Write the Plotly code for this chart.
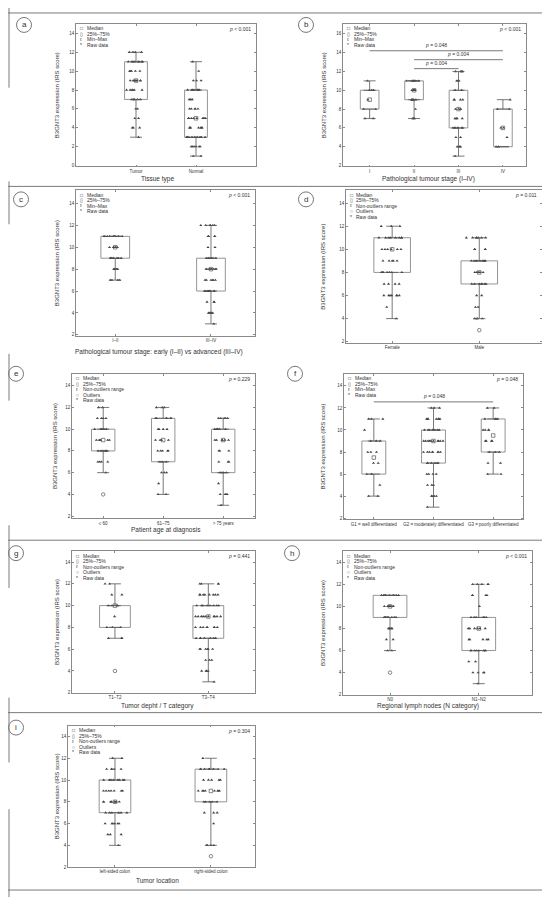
import numpy as np
import plotly.graph_objects as go

# the page is 550x904; the browser puts the figure 8 px in from the top-left
PAGE_W, PAGE_H = 550, 904
OFF = 8
W, H = PAGE_W - OFF, PAGE_H - OFF

#####
# data: box stats (q1, median, q3, whisker ends),
# raw IRS scores as value / count pairs per group, outliers, p-values
#####

# a) tissue type
a_cats = ["Tumor", "Normal"]
a_q1 = [7, 3]
a_med = [9, 5]
a_q3 = [11, 8]
a_lo = [3, 1]
a_hi = [12, 11]
a_tumor_vals = [12, 11, 10, 9, 8, 7, 6, 5, 4, 3]
a_tumor_n = [4, 8, 5, 8, 6, 5, 2, 2, 3, 1]
a_normal_vals = [11, 10, 9, 8, 7, 6, 5, 4, 3, 2, 1]
a_normal_n = [1, 1, 3, 8, 3, 5, 9, 7, 9, 6, 2]

# b) pathological stage I-IV
b_cats = ["I", "II", "III", "IV"]
b_q1 = [8, 9, 6, 4]
b_med = [9, 10, 8, 6]
b_q3 = [10, 11, 10, 8]
b_lo = [7, 7, 3, 4]
b_hi = [11, 11, 12, 9]
b_s1_vals = [11, 10, 9, 8, 7]
b_s1_n = [1, 3, 1, 2, 2]
b_s2_vals = [11, 10, 9, 8, 7]
b_s2_n = [7, 5, 6, 1, 3]
b_s3_vals = [12, 11, 10, 9, 8, 7, 6, 5, 4, 3]
b_s3_n = [4, 3, 2, 4, 4, 4, 7, 2, 3, 1]
b_s4_vals = [9, 8, 6, 5, 4]
b_s4_n = [1, 2, 2, 1, 2]
b_sig = [("I", "IV", 14.2, "p = 0.048"),
         ("II", "IV", 13.25, "p = 0.004"),
         ("II", "III", 12.3, "p = 0.004")]

# c) early vs advanced stage
c_cats = ["I–II", "III–IV"]
c_q1 = [9, 6]
c_med = [10, 8]
c_q3 = [11, 9]
c_lo = [7, 3]
c_hi = [11, 12]
c_early_vals = [11, 10, 9, 8, 7]
c_early_n = [9, 6, 8, 5, 4]
c_adv_vals = [12, 11, 10, 9, 8, 7, 6, 5, 4, 3]
c_adv_n = [6, 4, 2, 6, 8, 6, 9, 3, 5, 1]

# d) sex
d_cats = ["Female", "Male"]
d_q1 = [8, 7]
d_med = [10, 8]
d_q3 = [11, 9]
d_lo = [4, 4]
d_hi = [12, 11]
d_female_vals = [12, 11, 10, 9, 8, 7, 6, 5, 4]
d_female_n = [3, 8, 6, 5, 7, 4, 7, 1, 1]
d_male_vals = [11, 10, 9, 8, 7, 6, 5, 4]
d_male_n = [7, 4, 9, 5, 7, 2, 2, 4]
d_out_x = ["Male"]
d_out_y = [3]

# e) age at diagnosis
e_cats = ["≤ 60", "61–75", "> 75 years"]
e_q1 = [8, 7, 6]
e_med = [9, 9, 9]
e_q3 = [10, 11, 10]
e_lo = [6, 4, 3]
e_hi = [12, 12, 11]
e_g1_vals = [12, 11, 10, 9, 8, 7, 6]
e_g1_n = [2, 4, 6, 6, 6, 4, 1]
e_g2_vals = [12, 11, 10, 9, 8, 7, 6, 5, 4]
e_g2_n = [3, 6, 4, 4, 5, 3, 3, 1, 2]
e_g3_vals = [11, 10, 9, 8, 7, 6, 5, 4, 3]
e_g3_n = [5, 6, 6, 3, 3, 4, 1, 4, 1]
e_out_x = ["≤ 60"]
e_out_y = [4]

# f) grading
f_cats = ["G1 = well differentiated", "G2 = moderately differentiated",
          "G3 = poorly differentiated"]
f_q1 = [6, 7, 8]
f_med = [7.5, 9, 9.5]
f_q3 = [9, 10, 11]
f_lo = [4, 3, 6]
f_hi = [11, 12, 12]
f_g1_vals = [11, 10, 9, 8, 7, 6, 5, 4]
f_g1_n = [3, 1, 3, 3, 2, 2, 1, 2]
f_g2_vals = [12, 11, 10, 9, 8, 7, 6, 5, 4, 3]
f_g2_n = [3, 7, 7, 10, 8, 6, 4, 3, 5, 1]
f_g3_vals = [12, 11, 10, 9, 8, 7, 6]
f_g3_n = [2, 4, 4, 4, 3, 2, 2]
f_sig = [("G1 = well differentiated", "G3 = poorly differentiated", 12.55, "p = 0.048")]

# g) T category
g_cats = ["T1–T2", "T3–T4"]
g_q1 = [8, 7]
g_med = [10, 9]
g_q3 = [10, 10]
g_lo = [7, 3]
g_hi = [12, 12]
g_t12_vals = [12, 11, 10, 9, 8, 7]
g_t12_n = [2, 2, 4, 1, 3, 3]
g_t34_vals = [12, 11, 10, 9, 8, 7, 6, 5, 4, 3]
g_t34_n = [4, 8, 8, 10, 8, 7, 6, 3, 4, 1]
g_out_x = ["T1–T2"]
g_out_y = [4]

# h) N category
h_cats = ["N0", "N1–N2"]
h_q1 = [9, 6]
h_med = [10, 8]
h_q3 = [11, 9]
h_lo = [6, 3]
h_hi = [11, 12]
h_n0_vals = [11, 10, 9, 8, 7, 6]
h_n0_n = [10, 9, 9, 5, 2, 2]
h_n12_vals = [12, 11, 10, 9, 8, 7, 6, 5, 4, 3]
h_n12_n = [5, 4, 1, 6, 6, 5, 8, 2, 4, 1]
h_out_x = ["N0"]
h_out_y = [4]

# i) tumour location
i_cats = ["left-sided colon", "right-sided colon"]
i_q1 = [7, 8]
i_med = [8, 9]
i_q3 = [10, 11]
i_lo = [4, 4]
i_hi = [12, 12]
i_left_vals = [12, 11, 10, 9, 8, 7, 6, 5, 4]
i_left_n = [2, 5, 8, 7, 9, 6, 6, 3, 1]
i_right_vals = [12, 11, 10, 9, 8, 7, 6, 4]
i_right_n = [1, 8, 5, 8, 5, 3, 1, 4]
i_out_x = ["right-sided colon"]
i_out_y = [3]

MINMAX = "Min–Max"
NONOUT = "Non-outliers range"

panels = [
    dict(tag="a", cats=a_cats, q1=a_q1, med=a_med, q3=a_q3, lo=a_lo, hi=a_hi,
         raw=[(a_tumor_vals, a_tumor_n), (a_normal_vals, a_normal_n)],
         p="<i>p</i> < 0.001", whisk=MINMAX, xtitle="Tissue type"),
    dict(tag="b", cats=b_cats, q1=b_q1, med=b_med, q3=b_q3, lo=b_lo, hi=b_hi,
         raw=[(b_s1_vals, b_s1_n), (b_s2_vals, b_s2_n), (b_s3_vals, b_s3_n), (b_s4_vals, b_s4_n)],
         p="<i>p</i> < 0.001", whisk=MINMAX, xtitle="Pathological tumour stage (I–IV)", sig=b_sig),
    dict(tag="c", cats=c_cats, q1=c_q1, med=c_med, q3=c_q3, lo=c_lo, hi=c_hi,
         raw=[(c_early_vals, c_early_n), (c_adv_vals, c_adv_n)],
         p="<i>p</i> < 0.001", whisk=MINMAX,
         xtitle="Pathological tumour stage: early (I–II) vs advanced (III–IV)"),
    dict(tag="d", cats=d_cats, q1=d_q1, med=d_med, q3=d_q3, lo=d_lo, hi=d_hi,
         raw=[(d_female_vals, d_female_n), (d_male_vals, d_male_n)],
         out=(d_out_x, d_out_y), p="<i>p</i> = 0.011", whisk=NONOUT),
    dict(tag="e", cats=e_cats, q1=e_q1, med=e_med, q3=e_q3, lo=e_lo, hi=e_hi,
         raw=[(e_g1_vals, e_g1_n), (e_g2_vals, e_g2_n), (e_g3_vals, e_g3_n)],
         out=(e_out_x, e_out_y), p="<i>p</i> = 0.229", whisk=NONOUT,
         xtitle="Patient age at diagnosis"),
    dict(tag="f", cats=f_cats, q1=f_q1, med=f_med, q3=f_q3, lo=f_lo, hi=f_hi,
         raw=[(f_g1_vals, f_g1_n), (f_g2_vals, f_g2_n), (f_g3_vals, f_g3_n)],
         p="<i>p</i> = 0.048", whisk=MINMAX, sig=f_sig),
    dict(tag="g", cats=g_cats, q1=g_q1, med=g_med, q3=g_q3, lo=g_lo, hi=g_hi,
         raw=[(g_t12_vals, g_t12_n), (g_t34_vals, g_t34_n)],
         out=(g_out_x, g_out_y), p="<i>p</i> = 0.441", whisk=NONOUT,
         xtitle="Tumor depht / T category"),
    dict(tag="h", cats=h_cats, q1=h_q1, med=h_med, q3=h_q3, lo=h_lo, hi=h_hi,
         raw=[(h_n0_vals, h_n0_n), (h_n12_vals, h_n12_n)],
         out=(h_out_x, h_out_y), p="<i>p</i> < 0.001", whisk=NONOUT,
         xtitle="Regional lymph nodes (N category)"),
    dict(tag="i", cats=i_cats, q1=i_q1, med=i_med, q3=i_q3, lo=i_lo, hi=i_hi,
         raw=[(i_left_vals, i_left_n), (i_right_vals, i_right_n)],
         out=(i_out_x, i_out_y), p="<i>p</i> = 0.304", whisk=NONOUT,
         xtitle="Tumor location"),
]

# layout of each panel in page pixels: plot frame (left, right, top, bottom),
# axis ranges, box width (category units), y-title x, x-title (x, y), label circle (x, y)
geom = {
    "a": dict(frame=(76, 256, 24, 167), xr=[-1, 2], yr=[-0.1, 15], bw=0.38,
              ytx=57, xt=(157, 180), circ=(24, 25)),
    "b": dict(frame=(343, 526, 24, 167), xr=[-0.6, 3.52], yr=[1.9, 17.05], bw=0.42,
              ytx=324, xt=(428, 180), circ=(306, 25)),
    "c": dict(frame=(76, 255, 191, 337), xr=[-0.41, 1.46], yr=[1.9, 15.2], bw=0.3,
              ytx=57, xt=(159, 353), circ=(21, 200)),
    "d": dict(frame=(346, 542, 191, 344), xr=[-0.53, 1.72], yr=[1.9, 15.1], bw=0.42,
              ytx=323, xt=None, circ=(306, 200)),
    "e": dict(frame=(72, 255, 375, 520), xr=[-0.52, 2.53], yr=[1.8, 15.1], bw=0.39,
              ytx=55, xt=(166, 532), circ=(16, 375)),
    "f": dict(frame=(344, 523, 375, 521), xr=[-0.5, 2.5], yr=[1.9, 15.1], bw=0.4,
              ytx=323, xt=None, circ=(295, 375)),
    "g": dict(frame=(72, 255, 553, 695), xr=[-0.46, 1.5], yr=[2, 15], bw=0.33,
              ytx=57, xt=(157, 708), circ=(16, 555)),
    "h": dict(frame=(343, 532, 553, 697), xr=[-0.53, 1.6], yr=[2, 15], bw=0.38,
              ytx=323, xt=(428, 708), circ=(292, 555)),
    "i": dict(frame=(68, 255, 728, 870), xr=[-0.49, 1.46], yr=[2, 15], bw=0.33,
              ytx=57, xt=(157, 883), circ=(16, 730)),
}

# panel separators of the original figure page
sep_h = [13, 187, 542, 715, 893]
sep_v = [(8, 88), (182, 225), (355, 402), (527, 590), (700, 765), (812, 900)]

FONT = "Liberation Sans, Arial, sans-serif"
TXT = "#333333"
FRAME = "#8a8a8a"
BOXC = "#7a7a7a"
WHISK = "#555555"
PT = "#444444"
SEP = "#7a7a7a"


def fx(x):
    return (x - OFF) / W


def fy(y):
    return 1 - (y - OFF) / H


def note(x, y, text, size=5, xanchor="center", **kw):
    # paper-anchored text, placed by page pixels
    return dict(x=fx(x), y=fy(y), xref="paper", yref="paper", text=text,
                showarrow=False, xanchor=xanchor, yanchor="middle",
                font=dict(size=size, color=TXT, family=kw.pop("family", FONT)), **kw)


fig = go.Figure()
annotations = []
shapes = []

for k, pan in enumerate(panels, start=1):
    g = geom[pan["tag"]]
    sfx = "" if k == 1 else str(k)
    xa, ya = "x" + sfx, "y" + sfx
    l, r, t, b = g["frame"]
    cats = pan["cats"]
    q1, q3 = np.array(pan["q1"]), np.array(pan["q3"])
    lo, hi = np.array(pan["lo"]), np.array(pan["hi"])

    # whiskers: from box edges out to the min/max (non-outlier) values
    fig.add_trace(go.Scatter(
        x=cats, y=q3, mode="markers", marker=dict(size=1, color="rgba(0,0,0,0)"),
        error_y=dict(type="data", symmetric=False, array=hi - q3, arrayminus=np.zeros(len(cats)),
                     width=6, thickness=0.8, color=WHISK),
        xaxis=xa, yaxis=ya, showlegend=False, hoverinfo="skip"))
    fig.add_trace(go.Scatter(
        x=cats, y=q1, mode="markers", marker=dict(size=1, color="rgba(0,0,0,0)"),
        error_y=dict(type="data", symmetric=False, array=np.zeros(len(cats)), arrayminus=q1 - lo,
                     width=6, thickness=0.8, color=WHISK),
        xaxis=xa, yaxis=ya, showlegend=False, hoverinfo="skip"))

    # 25%-75% box
    fig.add_trace(go.Bar(
        x=cats, y=q3 - q1, base=q1, width=g["bw"],
        marker=dict(color="white", line=dict(color=BOXC, width=0.8)),
        xaxis=xa, yaxis=ya, showlegend=False, hoverinfo="skip"))

    # raw data, jittered by plotly's own box-points layout
    xs, ys = [], []
    for cat, (vals, counts) in zip(cats, pan["raw"]):
        v = np.repeat(vals, counts)
        ys.extend(v.tolist())
        xs.extend([cat] * len(v))
    fig.add_trace(go.Box(
        x=xs, y=ys, boxpoints="all", jitter=0.85, pointpos=0, width=g["bw"],
        fillcolor="rgba(0,0,0,0)", line=dict(width=0, color="rgba(0,0,0,0)"),
        marker=dict(symbol="triangle-up", size=2.8, color=PT, line=dict(width=0)),
        xaxis=xa, yaxis=ya, showlegend=False, hoverinfo="y"))

    # medians
    fig.add_trace(go.Scatter(
        x=cats, y=pan["med"], mode="markers",
        marker=dict(symbol="square-open", size=3.5, color=WHISK, line=dict(width=0.7)),
        xaxis=xa, yaxis=ya, showlegend=False))

    if pan.get("out"):
        ox, oy = pan["out"]
        fig.add_trace(go.Scatter(
            x=ox, y=oy, mode="markers",
            marker=dict(symbol="circle-open", size=3.5, color=WHISK, line=dict(width=0.7)),
            xaxis=xa, yaxis=ya, showlegend=False))

    for c1, c2, yv, txt in pan.get("sig", []):
        fig.add_trace(go.Scatter(
            x=[c1, c2], y=[yv, yv], mode="lines", line=dict(color=WHISK, width=0.8),
            xaxis=xa, yaxis=ya, showlegend=False, hoverinfo="skip"))
        mid = (cats.index(c1) + cats.index(c2)) / 2
        annotations.append(dict(
            x=mid, y=yv, xref=xa, yref=ya, text=txt.replace("p", "<i>p</i>", 1),
            showarrow=False, xanchor="center", yanchor="bottom", yshift=0.5,
            font=dict(size=5, color=TXT)))

    fig.update_layout(**{
        ("xaxis" + sfx): dict(
            domain=[fx(l), fx(r)], anchor=ya, type="category",
            categoryorder="array", categoryarray=cats, range=g["xr"],
            showline=True, mirror="ticks", linecolor=FRAME, linewidth=0.8,
            ticks="inside", ticklen=2, tickcolor=FRAME, tickwidth=0.6,
            tickfont=dict(size=4.5, color=TXT), showgrid=False, zeroline=False),
        ("yaxis" + sfx): dict(
            domain=[fy(b), fy(t)], anchor=xa, range=g["yr"], dtick=2, tick0=0,
            showline=True, mirror="ticks", linecolor=FRAME, linewidth=0.8,
            ticks="inside", ticklen=2, tickcolor=FRAME, tickwidth=0.6,
            tickfont=dict(size=4.5, color=TXT), showgrid=False, zeroline=False),
    })

    # y title
    annotations.append(note(g["ytx"], (t + b) / 2, "B3GNT3 expression (IRS score)",
                            size=6, textangle=-90))
    # x title
    if pan.get("xtitle"):
        annotations.append(note(g["xt"][0], g["xt"][1], pan["xtitle"], size=6.5))
    # p value, top right
    annotations.append(note(r - 3, t + 5, pan["p"], xanchor="right"))

    # in-plot legend
    items = [("□", "Median", FONT), ("▯", "25%–75%", FONT),
             ("I", pan["whisk"], "Liberation Serif")]
    if pan["whisk"] == NONOUT:
        items.append(("○", "Outliers", FONT))
    items.append(("*", "Raw data", FONT))
    for j, (sym, lab, sfont) in enumerate(items):
        yy = t + 4.5 + 5.5 * j
        annotations.append(note(l + 5, yy, sym, family=sfont))
        annotations.append(note(l + 8.5, yy, lab, xanchor="left"))

    # panel letter in a circle
    cx, cy = g["circ"]
    shapes.append(dict(type="circle", xref="paper", yref="paper",
                       x0=fx(cx - 7.5), x1=fx(cx + 7.5), y0=fy(cy + 7.5), y1=fy(cy - 7.5),
                       line=dict(color="#555555", width=0.8)))
    annotations.append(note(cx, cy, pan["tag"], size=8))

for yy in sep_h:
    shapes.append(dict(type="line", xref="paper", yref="paper", x0=fx(OFF), x1=fx(543),
                       y0=fy(yy), y1=fy(yy), line=dict(color=SEP, width=1)))
for y0, y1 in sep_v:
    shapes.append(dict(type="line", xref="paper", yref="paper", x0=fx(9), x1=fx(9),
                       y0=fy(max(y0, OFF)), y1=fy(y1), line=dict(color=SEP, width=1)))

fig.update_layout(
    width=W, height=H, autosize=False,
    margin=dict(l=0, r=0, t=0, b=0),
    plot_bgcolor="white", paper_bgcolor="white",
    font=dict(family=FONT, size=5, color=TXT),
    showlegend=False, barmode="overlay", boxmode="overlay",
    annotations=annotations, shapes=shapes,
)

fig.write_html("out.html")
